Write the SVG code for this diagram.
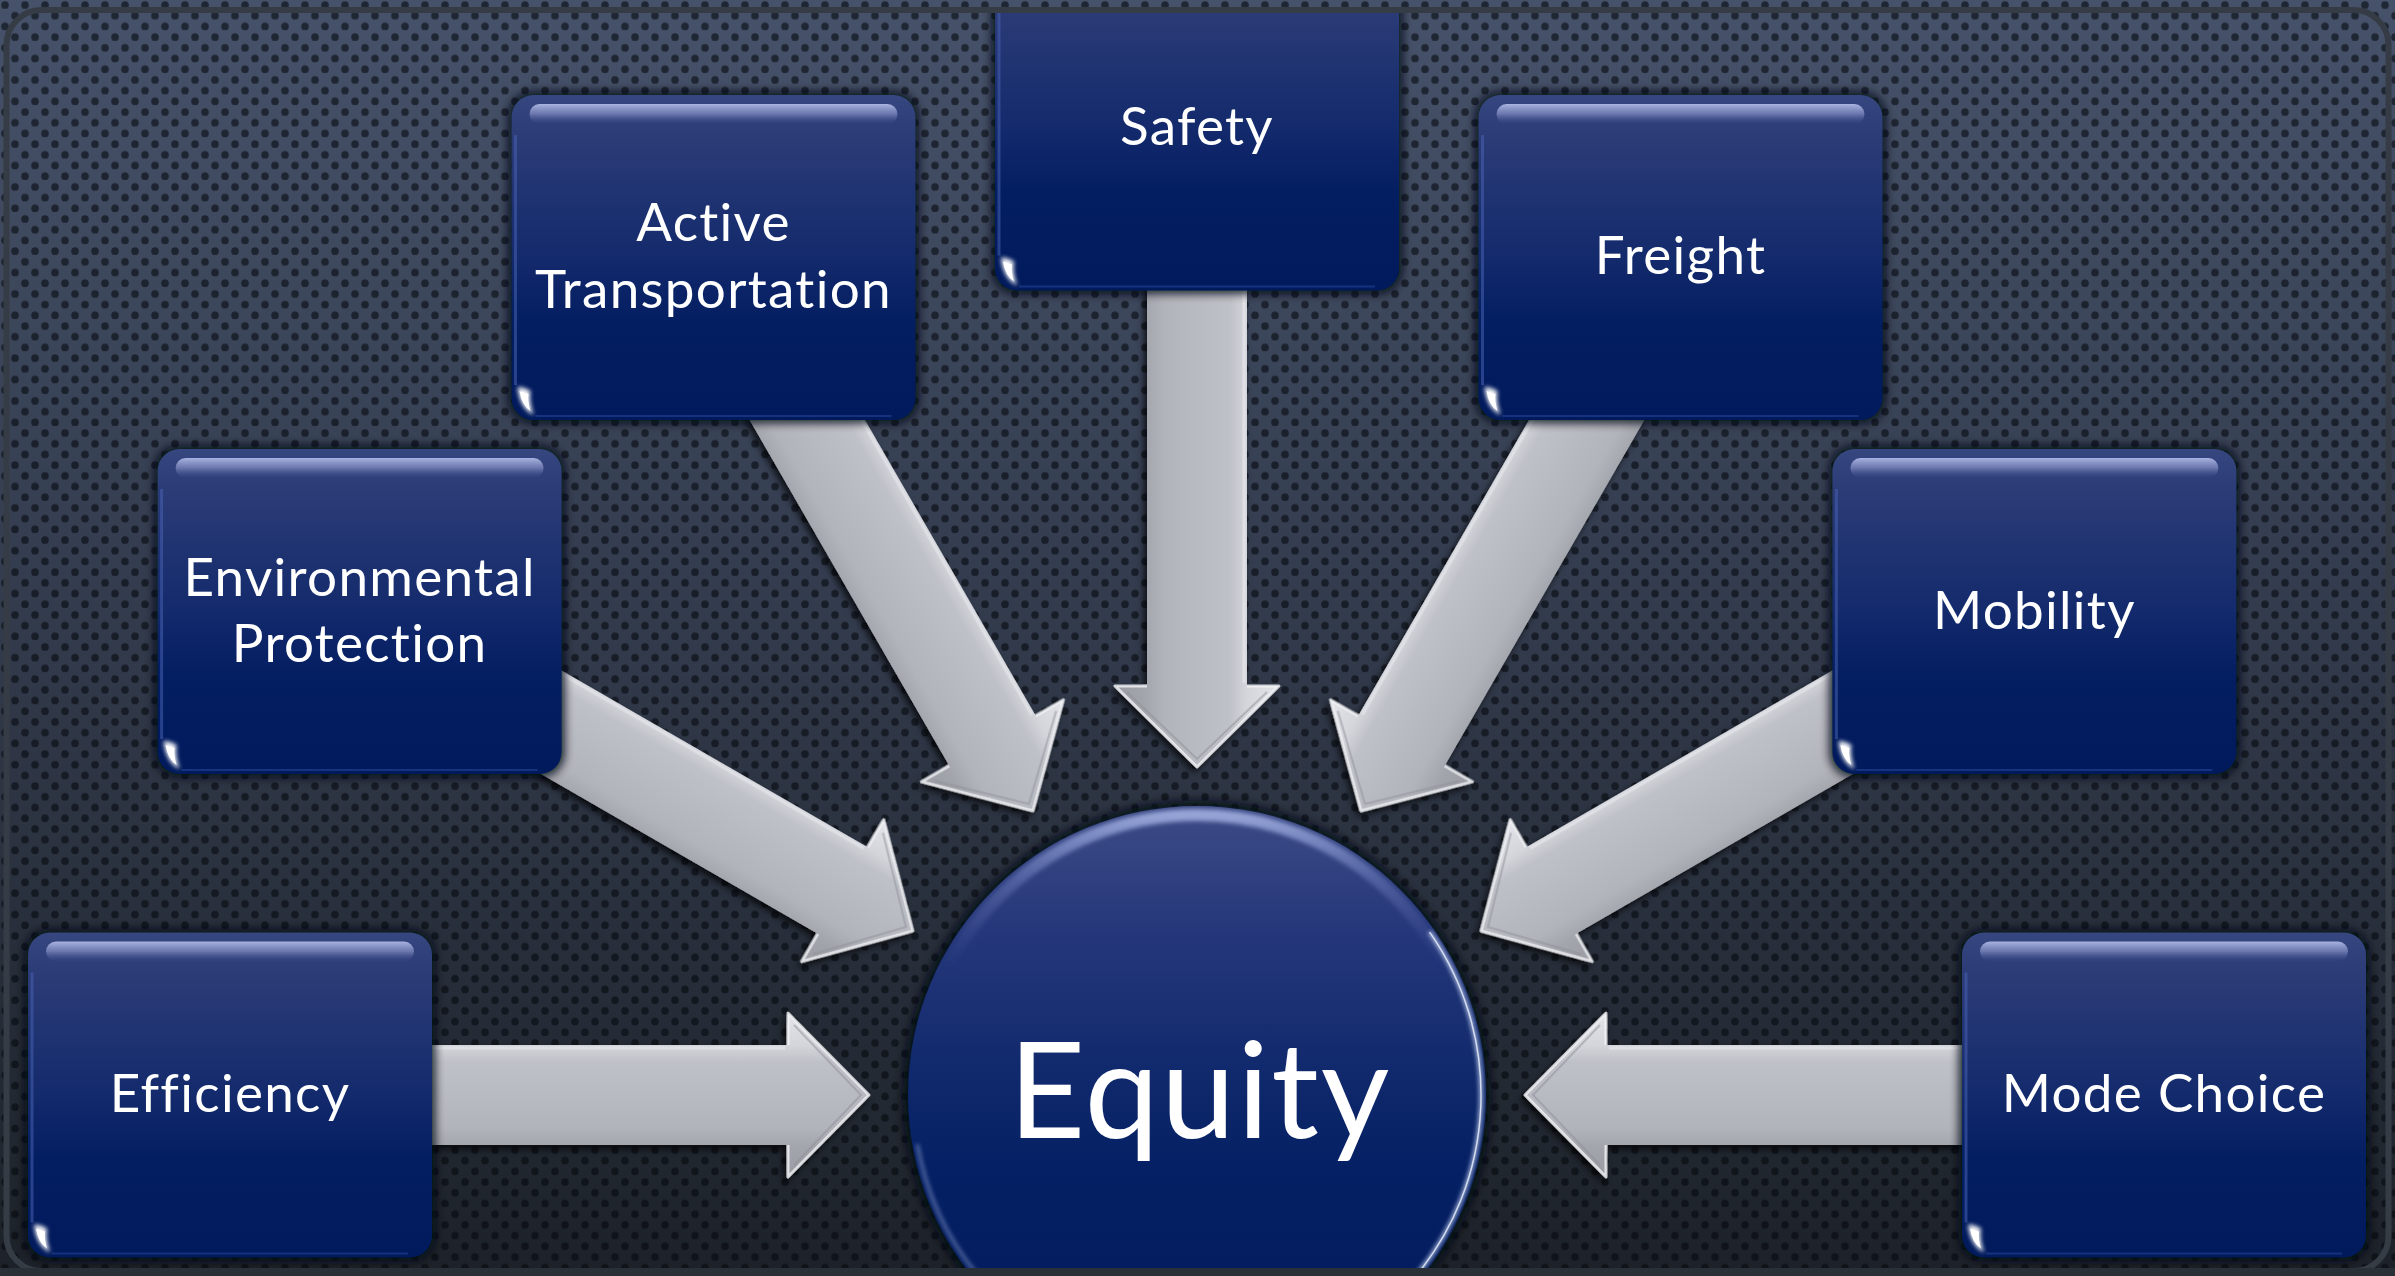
<svg xmlns="http://www.w3.org/2000/svg" xmlns:xlink="http://www.w3.org/1999/xlink" width="2395" height="1276" viewBox="0 0 2395 1276">
<style>
.lbl{font-family:Lato,"Open Sans","Liberation Sans",sans-serif;font-size:53px;letter-spacing:1.3px;fill:#ffffff;text-anchor:middle;font-variant-ligatures:none;font-feature-settings:"liga" 0,"clig" 0}
.big{font-family:Lato,"Open Sans","Liberation Sans",sans-serif;font-size:133px;letter-spacing:2px;fill:#ffffff;text-anchor:middle;font-variant-ligatures:none}
</style>
<defs>
  <linearGradient id="bg" x1="0" y1="0" x2="0" y2="1">
    <stop offset="0" stop-color="#46526a"/>
    <stop offset="0.45" stop-color="#343d4f"/>
    <stop offset="1" stop-color="#1d2229"/>
  </linearGradient>
  <pattern id="dots" width="20" height="21.4" patternUnits="userSpaceOnUse">
    <circle cx="5" cy="5" r="3.8" fill="#05080d" fill-opacity="0.58"/>
    <circle cx="15" cy="15.7" r="3.8" fill="#05080d" fill-opacity="0.58"/>
  </pattern>
  <clipPath id="inner">
    <rect x="9" y="13" width="2377" height="1255" rx="32"/>
  </clipPath>
  <filter id="halo" x="-20%" y="-20%" width="140%" height="140%">
    <feGaussianBlur stdDeviation="5"/>
  </filter>
  <filter id="soft" x="-50%" y="-50%" width="200%" height="200%">
    <feGaussianBlur stdDeviation="2"/>
  </filter>
  <filter id="ashadow" x="-10%" y="-10%" width="120%" height="120%">
    <feDropShadow dx="-3" dy="4" stdDeviation="3.5" flood-color="#000000" flood-opacity="0.75"/>
  </filter>
  <linearGradient id="boxFill" x1="0" y1="0" x2="0" y2="1">
    <stop offset="0" stop-color="#36467f"/>
    <stop offset="0.12" stop-color="#2c3c77"/>
    <stop offset="0.5" stop-color="#132a6c"/>
    <stop offset="0.7" stop-color="#041e62"/>
    <stop offset="1" stop-color="#011a5c"/>
  </linearGradient>
  <linearGradient id="gloss" x1="0" y1="0" x2="0" y2="1">
    <stop offset="0" stop-color="#b7c0ec" stop-opacity="0.9"/>
    <stop offset="0.5" stop-color="#8993c8" stop-opacity="0.65"/>
    <stop offset="1" stop-color="#4d5b99" stop-opacity="0"/>
  </linearGradient>
  <linearGradient id="rightEdge" x1="0" y1="0" x2="0" y2="1">
    <stop offset="0" stop-color="#6f86c8" stop-opacity="0.5"/>
    <stop offset="0.5" stop-color="#a9c3ff" stop-opacity="1"/>
    <stop offset="1" stop-color="#6f90e0" stop-opacity="0.6"/>
  </linearGradient>
  <linearGradient id="circFill" x1="0" y1="0" x2="0" y2="1">
    <stop offset="0" stop-color="#3d4b86"/>
    <stop offset="0.22" stop-color="#25377a"/>
    <stop offset="0.45" stop-color="#112a6d"/>
    <stop offset="0.62" stop-color="#052064"/>
    <stop offset="1" stop-color="#021a5c"/>
  </linearGradient>
  <linearGradient id="circRim" x1="0" y1="0" x2="0" y2="1">
    <stop offset="0" stop-color="#a0aee0" stop-opacity="0.9"/>
    <stop offset="0.12" stop-color="#7584c4" stop-opacity="0.45"/>
    <stop offset="0.28" stop-color="#4a5aa0" stop-opacity="0"/>
  </linearGradient>
  <linearGradient id="arrowFill" gradientUnits="userSpaceOnUse" x1="0" y1="-82" x2="0" y2="82">
    <stop offset="0" stop-color="#e4e5ea"/>
    <stop offset="0.2" stop-color="#d3d5db"/>
    <stop offset="0.3" stop-color="#bfc1c8"/>
    <stop offset="0.7" stop-color="#b2b4bb"/>
    <stop offset="0.82" stop-color="#a3a5ad"/>
    <stop offset="1" stop-color="#9a9ca4"/>
  </linearGradient>
  <g id="box">
    <rect x="-3" y="-3" width="410" height="331" rx="24" fill="#060912" opacity="0.9" filter="url(#halo)"/>
    <rect x="0" y="0" width="404" height="325" rx="22" fill="url(#boxFill)"/>
    <rect x="18" y="9" width="368" height="20" rx="10" fill="url(#gloss)"/>
    <path d="M4,40 L4,290" stroke="#4760b0" stroke-width="3" opacity="0.55" fill="none"/>
    <path d="M398,32 L398,298" stroke="url(#rightEdge)" stroke-width="3.5" fill="none"/>
    <path d="M24,321 H380" stroke="#3050a8" stroke-width="2" opacity="0.45" fill="none"/>
    <path d="M6,292 Q8,313 22,320 Q17,306 19,296 Q12,292 6,292 Z" fill="#ffffff" opacity="0.95" filter="url(#soft)"/>
    <path d="M8,296 Q10,310 19,316 Q16,306 17,299 Z" fill="#ffffff"/>
  </g>
  <g id="arrow">
    <path d="M0,0 L-81,-82 L-81,-50 L-639,-50 L-639,50 L-81,50 L-81,82 Z" fill="url(#arrowFill)"/>
    <path d="M-81,-50 L-81,-82 L0,0 L-81,82 L-81,50" fill="none" stroke="#f4f5f8" stroke-width="3" stroke-linejoin="round" opacity="0.8"/>
    <path d="M-75,-70 L-8,0 L-75,70" fill="none" stroke="#8d8f97" stroke-width="2" opacity="0.5"/>
    <path d="M-639,-47 L-84,-47" stroke="#e6e7ec" stroke-width="3" opacity="0.7"/>
  </g>
</defs>

<rect x="0" y="0" width="2395" height="1276" fill="url(#bg)"/>
<rect x="0" y="0" width="2395" height="1276" fill="url(#dots)"/>

<g clip-path="url(#inner)">
  <g id="connectors" filter="url(#ashadow)">
    <use xlink:href="#arrow" href="#arrow" transform="translate(869,1095)"/>
    <use xlink:href="#arrow" href="#arrow" transform="translate(912.9,931) rotate(30)"/>
    <use xlink:href="#arrow" href="#arrow" transform="translate(1033,810.9) rotate(60)"/>
    <use xlink:href="#arrow" href="#arrow" transform="translate(1197,767) rotate(90)"/>
    <use xlink:href="#arrow" href="#arrow" transform="translate(1361,810.9) scale(-1,1) rotate(60)"/>
    <use xlink:href="#arrow" href="#arrow" transform="translate(1481.1,931) scale(-1,1) rotate(30)"/>
    <use xlink:href="#arrow" href="#arrow" transform="translate(1525,1095) scale(-1,1)"/>
  </g>

  <g id="node-efficiency">
    <use xlink:href="#box" href="#box" x="28" y="932.5"/>
    <text class="lbl" x="230" y="1112">Efficiency</text>
  </g>
  <g id="node-environmental-protection">
    <use xlink:href="#box" href="#box" x="157.6" y="449"/>
    <text class="lbl" x="359.6" y="596">Environmental</text>
    <text class="lbl" x="359.6" y="662">Protection</text>
  </g>
  <g id="node-active-transportation">
    <use xlink:href="#box" href="#box" x="511.5" y="95.1"/>
    <text class="lbl" x="713.5" y="241">Active</text>
    <text class="lbl" x="713.5" y="308">Transportation</text>
  </g>
  <g id="node-safety">
    <use xlink:href="#box" href="#box" x="995" y="-34.5"/>
    <text class="lbl" x="1197" y="145">Safety</text>
  </g>
  <g id="node-freight">
    <use xlink:href="#box" href="#box" x="1478.5" y="95.1"/>
    <text class="lbl" x="1680.5" y="274">Freight</text>
  </g>
  <g id="node-mobility">
    <use xlink:href="#box" href="#box" x="1832.4" y="449"/>
    <text class="lbl" x="2034.4" y="629">Mobility</text>
  </g>
  <g id="node-mode-choice">
    <use xlink:href="#box" href="#box" x="1962" y="932.5"/>
    <text class="lbl" x="2164" y="1112">Mode Choice</text>
  </g>

  <g id="node-equity">
    <circle cx="1197" cy="1095" r="294" fill="#060912" opacity="0.9" filter="url(#halo)"/>
    <circle cx="1197" cy="1095" r="289" fill="url(#circFill)"/>
    <circle cx="1197" cy="1095" r="280" fill="none" stroke="url(#circRim)" stroke-width="12" filter="url(#soft)"/>
    <path d="M1429.6,932.1 A284,284 0 0 1 1414.6,1277.6" fill="none" stroke="#d5e3ff" stroke-width="3.5" opacity="0.85" filter="url(#soft)"/>
    <path d="M1429.6,932.1 A284,284 0 0 1 1414.6,1277.6" fill="none" stroke="#eef4ff" stroke-width="1.5" opacity="0.8"/>
    <path d="M979.4,1277.6 A284,284 0 0 1 917.3,1144.3" fill="none" stroke="#b8c8f0" stroke-width="3" opacity="0.5" filter="url(#soft)"/>
    <text class="big" x="1200" y="1138">Equity</text>
  </g>
</g>

<rect x="6.5" y="10" width="2382" height="1261" rx="35" fill="none" stroke="#363c45" stroke-width="6"/>
<rect x="0" y="1268" width="2395" height="8" fill="#2a3038"/>
</svg>
